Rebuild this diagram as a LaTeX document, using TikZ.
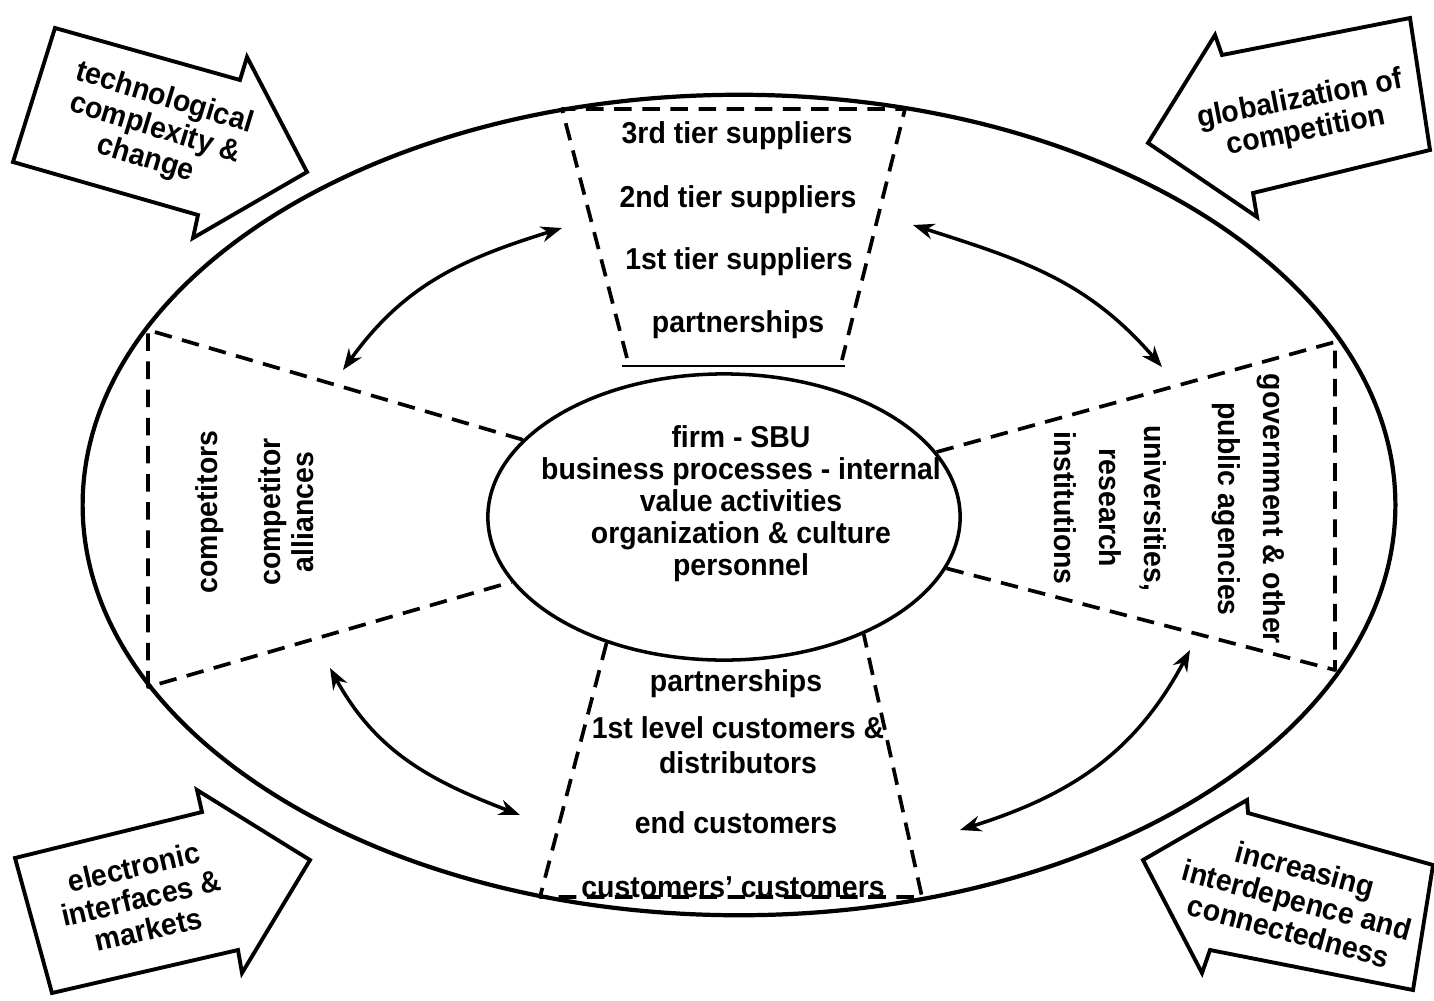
\documentclass[tikz,border=0pt]{standalone}
\usepackage{fontspec}
\setmainfont{Liberation Sans}[FakeStretch=0.94]
\usetikzlibrary{shapes.geometric,arrows.meta}
\begin{document}
\begin{tikzpicture}[x=0.01cm,y=-0.01cm,
  lbl/.style={font=\fontsize{8.6}{9.1}\selectfont\bfseries, align=center, inner sep=0pt},
  rim/.style={line width=1.2pt},
  sector/.style={line width=1.05pt, dash pattern=on 5pt off 3pt, line join=round},
  flow/.style={line width=1pt, {Stealth[length=6pt,width=4.5pt]}-{Stealth[length=6pt,width=4.5pt]}},
  bigarrow/.style={line width=1.1pt, fill=white, line join=miter},
]
\useasboundingbox (0,0) rectangle (1434,1000);

% environment and the firm
\node[ellipse, draw, rim, minimum width=13.12cm, minimum height=8.2cm, inner sep=0pt] (world) at (739,505) {};
\node[ellipse, draw, line width=1pt, minimum width=4.72cm, minimum height=2.86cm, inner sep=0pt] (firm) at (724,517) {};
\node[lbl] (firmtext) at (741,504) {firm - SBU\\business processes - internal\\value activities\\organization \& culture\\personnel};

% supplier sector (top)
\coordinate (s1) at (627,358);
\coordinate (s2) at (562,109);
\coordinate (s3) at (905,109);
\coordinate (s4) at (842,360);
\draw[sector] (s1) -- (s2) -- (s3) -- (s4);
\coordinate (sl) at (622,366);
\coordinate (sr) at (845,366);
\draw[line width=0.8pt] (sl) -- (sr);
\node[lbl] (tier3) at (737,136) {3rd tier suppliers};
\node[lbl] (tier2) at (738,200) {2nd tier suppliers};
\node[lbl] (tier1) at (739,262) {1st tier suppliers};
\node[lbl] (suppart) at (738,325) {partnerships};

% customer sector (bottom)
\coordinate (c2) at (540,897);
\coordinate (c3) at (922,897);
\draw[sector] (firm.227) -- (c2) -- (c3) -- (firm.-40);
\node[lbl] (cuspart) at (736,684) {partnerships};
\node[lbl] (cus1) at (738,745) {1st level customers \&\\[0.9pt]distributors};
\node[lbl] (cusend) at (736,823) {end customers};
\node[lbl] (cuscus) at (733,887) {customers' customers};

% competitor sector (left)
\coordinate (l1) at (148,330);
\coordinate (l2) at (148,687);
\draw[sector] (firm.159) -- (l1) -- (l2) -- (firm.197);
\node[lbl, rotate=90] (comp) at (210,512) {competitors};
\node[lbl, rotate=90] (compall) at (286,512) {competitor\\[0.3pt]alliances};

% public sector (right)
\coordinate (r1) at (1335,342);
\coordinate (r2) at (1335,670);
\draw[sector] (firm.17) -- (r1) -- (r2) -- (firm.-13);
\node[lbl, rotate=-90] (gov) at (1249,509) {government \& other\\[3.7pt]public agencies};
\node[lbl, rotate=-90] (univ) at (1110,508) {universities,\\[3.7pt]research\\[3.7pt]institutions};

% interaction loops between the sectors
\coordinate (a1) at (343,370);
\coordinate (a2) at (562,228);
\draw[flow] (a1) .. controls (404,285) and (462,259) .. (a2);
\coordinate (b1) at (913,225);
\coordinate (b2) at (1162,367);
\draw[flow] (b1) .. controls (1022,260) and (1087,280) .. (b2);
\coordinate (d1) at (330,668);
\coordinate (d2) at (520,815);
\draw[flow] (d1) .. controls (376,752) and (431,781) .. (d2);
\coordinate (e1) at (960,830);
\coordinate (e2) at (1190,650);
\draw[flow] (e1) .. controls (1071,795) and (1135,753) .. (e2);

% external driving forces
\draw[bigarrow] (55,28) -- (240,80) -- (247,57) -- (307,172) -- (193,238) -- (198,215) -- (13,162) -- cycle;
\node[lbl, rotate=-17] (tech) at (155,129) {technological\\complexity \&\\change};

\draw[bigarrow] (1148,143) -- (1215,35) -- (1222,55) -- (1410,18) -- (1430,150) -- (1253,193) -- (1257,217) -- cycle;
\node[lbl, rotate=11] (glob) at (1303,116) {globalization of\\competition};

\draw[bigarrow] (15,858) -- (202,812) -- (197,790) -- (310,860) -- (242,973) -- (238,950) -- (52,993) -- cycle;
\node[lbl, rotate=13] (elec) at (141,898) {electronic\\interfaces \&\\markets};

\draw[bigarrow] (1143,860) -- (1247,800) -- (1248,813) -- (1433,865) -- (1413,990) -- (1210,950) -- (1202,973) -- cycle;
\node[lbl, rotate=-15] (inter) at (1297,900) {increasing\\interdepence and\\connectedness};
\end{tikzpicture}
\end{document}
